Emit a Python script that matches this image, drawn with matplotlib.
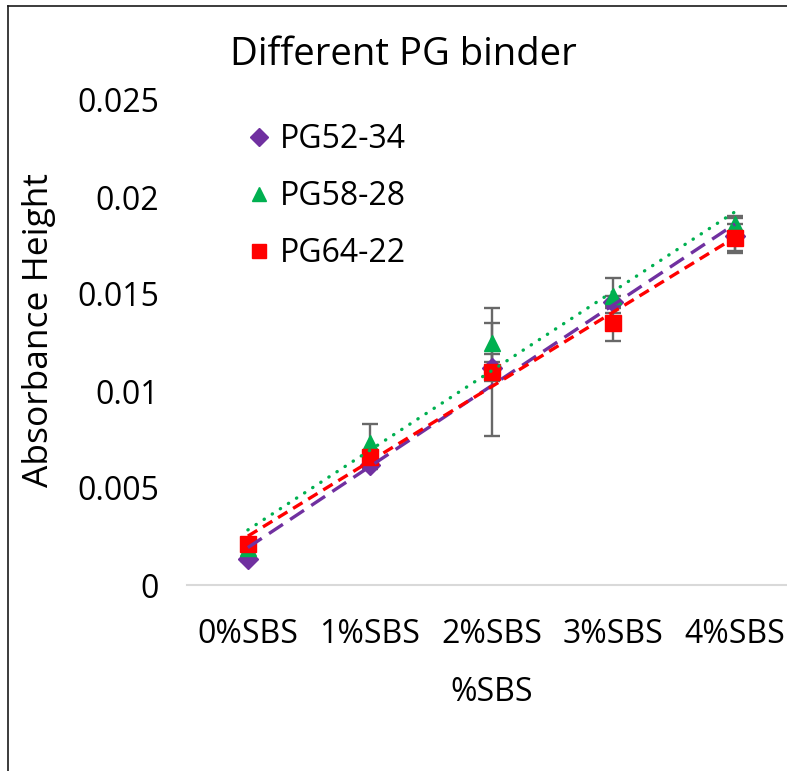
import numpy as np
import matplotlib
matplotlib.use("Agg")
import matplotlib.pyplot as plt
from matplotlib.lines import Line2D

plt.rcParams['font.family'] = ['Open Sans', 'DejaVu Sans']

categories = ["0%SBS", "1%SBS", "2%SBS", "3%SBS", "4%SBS"]
series_names = ["PG52-34", "PG58-28", "PG64-22"]
pg52_34 = [0.00135, 0.0062, 0.0112, 0.0146, 0.0180]
pg52_34_err = [0.0001, 0.0002, 0.0007, 0.0003, 0.0009]
pg58_28 = [0.0019, 0.0073, 0.0125, 0.0149, 0.0186]
pg58_28_err = [0.0001, 0.0010, 0.0010, 0.0009, 0.0004]
pg64_22 = [0.0021, 0.0066, 0.0110, 0.0135, 0.0179]
pg64_22_err = [0.0001, 0.0003, 0.0033, 0.0009, 0.0007]
yticks = [0, 0.005, 0.01, 0.015, 0.02, 0.025]
ytick_labels = ["0", "0.005", "0.01", "0.015", "0.02", "0.025"]

W, H = 787, 771
fig = plt.figure(figsize=(W / 100, H / 100), dpi=100)
ax = fig.add_axes([187 / W, 1 - 585 / H, (796 - 187) / W, (585 - 100) / H])

x = np.arange(len(categories))
styles = [
    dict(vals=pg52_34, err=pg52_34_err, color="#7030A0", marker="D", ms=10, ls=(0, (5, 2.6))),
    dict(vals=pg58_28, err=pg58_28_err, color="#00B050", marker="^", ms=11.5, ls=(0, (0.1, 2.8))),
    dict(vals=pg64_22, err=pg64_22_err, color="#FF0000", marker="s", ms=11, ls=(0, (3.3, 2.0))),
]

handles = []
for name, s in zip(series_names, styles):
    ax.errorbar(x, s["vals"], yerr=s["err"], fmt="none", ecolor="#686868",
                elinewidth=1.7, capsize=5.5, capthick=1.7, zorder=2, clip_on=False)
    ax.plot(x, s["vals"], linestyle="none", marker=s["marker"], ms=s["ms"],
            color=s["color"], mec=s["color"], zorder=3, clip_on=False)
    handles.append(Line2D([], [], linestyle="none", marker=s["marker"], ms=s["ms"] * 0.9,
                          color=s["color"], label=name))

for s in styles:
    k, b = np.polyfit(x, s["vals"], 1)
    xx = np.array([x[0], x[-1]])
    cap = "round" if s["marker"] == "^" else "butt"
    ax.plot(xx, k * xx + b, color=s["color"], lw=2.4, linestyle=s["ls"],
            dash_capstyle=cap, zorder=4, clip_on=False)

ax.set_xlim(-0.5, 4.5)
ax.set_ylim(0, 0.025)
ax.set_yticks(yticks)
ax.set_yticklabels(ytick_labels)
ax.set_xticks(x)
ax.set_xticklabels(categories)
for sp in ["top", "right", "left"]:
    ax.spines[sp].set_visible(False)
ax.spines["bottom"].set_color("#d9d9d9")
ax.spines["bottom"].set_linewidth(1.5)
ax.tick_params(axis="both", length=0, labelsize=23)
ax.tick_params(axis="y", pad=20)
ax.tick_params(axis="x", pad=24)
ax.set_xlabel("%SBS", fontsize=23, labelpad=18)
ax.set_ylabel("Absorbance Height", fontsize=25.5, labelpad=6)
ax.yaxis.set_label_coords(56 / W, 1 - 330 / H, transform=fig.transFigure)

fig.text(403 / W, 1 - 55 / H, "Different PG binder", fontsize=27.5, ha="center", va="center")

fig.legend(handles=handles, loc="upper left", bbox_to_anchor=(246 / W, 1 - 123 / H),
           frameon=False, fontsize=23, handletextpad=0.25, labelspacing=0.75,
           handlelength=0.8, borderaxespad=0, borderpad=0)

fig.add_artist(Line2D([8 / W, 8 / W], [0, 1 - 6 / H], transform=fig.transFigure,
                      color="#1a1a1a", lw=1.2))
fig.add_artist(Line2D([8 / W, 1], [1 - 6 / H, 1 - 6 / H], transform=fig.transFigure,
                      color="#1a1a1a", lw=1.2))

fig.savefig("out.png", dpi=100)
